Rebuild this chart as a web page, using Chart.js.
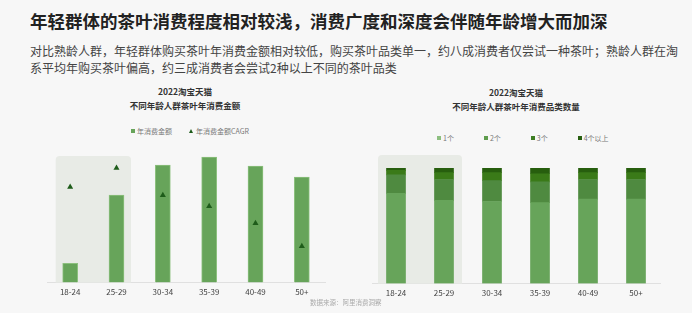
<!DOCTYPE html>
<html>
<head>
<meta charset="utf-8">
<script src="https://cdn.jsdelivr.net/npm/chart.js@4.4.0/dist/chart.umd.min.js"></script>
<style>
  html, body { margin: 0; padding: 0; }
  body { width: 692px; height: 313px; background: #f7f7f7; position: relative; overflow: hidden;
         font-family: "Noto Sans CJK SC", "Noto Sans", sans-serif; }
  .abs { position: absolute; white-space: nowrap; }
  #title { left: 30px; top: 8px; font-size: 17.5px; font-weight: bold; color: #222; }
  #sub { left: 30px; top: 42px; font-size: 12px; line-height: 17px; color: #444; }
  .ctitle { font-size: 8.5px; font-weight: bold; color: #333; text-align: center; line-height: 14px; transform: translateX(-50%); }
  .legend { font-size: 7px; color: #777; display: flex; align-items: center; }
  .legend span { display: inline-flex; align-items: center; }
  .sq { width: 4px; height: 4px; margin-right: 2px; display: inline-block; }
  .tri { width: 0; height: 0; border-left: 2.5px solid transparent; border-right: 2.5px solid transparent;
         border-bottom: 4px solid #1e5c1a; margin-right: 3px; display: inline-block; }
  canvas { position: absolute; }
  #src { left: 310px; top: 297px; font-size: 6.5px; color: #aaa; }
</style>
</head>
<body>
<div id="title" class="abs">年轻群体的茶叶消费程度相对较浅，消费广度和深度会伴随年龄增大而加深</div>
<div id="sub" class="abs">对比熟龄人群，年轻群体购买茶叶年消费金额相对较低，购买茶叶品类单一，约八成消费者仅尝试一种茶叶；熟龄人群在淘<br>系平均年购买茶叶偏高，约三成消费者会尝试2种以上不同的茶叶品类</div>

<div class="abs ctitle" style="left:185px; top:84px;">2022淘宝天猫<br>不同年龄人群茶叶年消费金额</div>
<div class="abs legend" style="left:131px; top:126px;">
  <span><i class="sq" style="background:#67a45a"></i>年消费金额</span>
  <span style="margin-left:17px"><i class="tri"></i>年消费金额CAGR</span>
</div>

<div class="abs ctitle" style="left:516px; top:85px;">2022淘宝天猫<br>不同年龄人群茶叶年消费品类数量</div>
<div class="abs legend" style="left:437px; top:133px;">
  <span><i class="sq" style="background:#8dbf80"></i>1个</span>
  <span style="margin-left:30px"><i class="sq" style="background:#5e9c4d"></i>2个</span>
  <span style="margin-left:30px"><i class="sq" style="background:#3d7d22"></i>3个</span>
  <span style="margin-left:30px"><i class="sq" style="background:#285f10"></i>4个以上</span>
</div>

<canvas id="left" width="300" height="160" style="left:37px; top:145px; width:300px; height:160px;"></canvas>
<canvas id="right" width="310" height="160" style="left:362px; top:145px; width:310px; height:160px;"></canvas>

<div id="src" class="abs">数据来源：阿里消费洞察</div>

<script>
// age groups
const ageGroups = ['18-24', '25-29', '30-34', '35-39', '40-49', '50+'];

// left chart: annual spend (relative) and its CAGR (relative marker heights)
const spend = [19, 87, 117, 125, 116, 105];
const spendCagr = [95, 114, 87, 76, 59, 36];

// right chart: share of buyers by number of tea categories bought (%)
const cat1 = [78, 72, 71, 70, 73, 73];
const cat2 = [16, 18, 18, 18, 17, 17];
const cat3 = [4, 6, 7, 7, 6, 6];
const cat4 = [2, 4, 4, 5, 4, 4];

const font = { family: '"Noto Sans CJK SC", "Noto Sans", sans-serif', size: 8 };

// grey box behind the young groups
const highlight = {
  id: 'highlight',
  beforeDatasetsDraw(chart, args, opts) {
    const x = chart.scales.x;
    const ctx = chart.ctx;
    const l = x.getPixelForValue(0) - opts.pad;
    const r = x.getPixelForValue(1) + opts.pad;
    const t = opts.top;
    const b = chart.chartArea.bottom;
    ctx.save();
    ctx.fillStyle = '#e8ebe6';
    ctx.beginPath();
    ctx.roundRect(l, t, r - l, b - t, [4, 4, 0, 0]);
    ctx.fill();
    ctx.restore();
  }
};

const xAxis = {
  grid: { display: false, drawTicks: false },
  border: { display: true, color: '#e0e0e0', width: 1 },
  ticks: { color: '#444', font: font, padding: 5 }
};

new Chart(document.getElementById('left'), {
  type: 'bar',
  data: {
    labels: ageGroups,
    datasets: [
      {
        type: 'line',
        label: '年消费金额CAGR',
        data: spendCagr,
        showLine: false,
        pointStyle: 'triangle',
        pointRadius: 3.5,
        backgroundColor: '#1e5c1a',
        borderColor: '#1e5c1a',
        borderWidth: 0,
        order: 0
      },
      {
        label: '年消费金额',
        data: spend,
        backgroundColor: '#67a45a',
        borderColor: '#8cc07e',
        borderWidth: 1,
        barThickness: 15,
        order: 1
      }
    ]
  },
  options: {
    responsive: false,
    animation: false,
    layout: { padding: { left: 10, right: 12, top: 7, bottom: 3 } },
    plugins: { legend: { display: false }, tooltip: { enabled: false },
               highlight: { pad: 14.5, top: 11 } },
    scales: {
      x: xAxis,
      y: { display: false, min: 0, max: 130 }
    }
  },
  plugins: [highlight]
});

new Chart(document.getElementById('right'), {
  type: 'bar',
  data: {
    labels: ageGroups,
    datasets: [
      { label: '1个', data: cat1, backgroundColor: '#67a45a' },
      { label: '2个', data: cat2, backgroundColor: '#4f8a40' },
      { label: '3个', data: cat3, backgroundColor: '#3a7a18' },
      { label: '4个以上', data: cat4, backgroundColor: '#275e0e' }
    ].map(d => Object.assign(d, { barThickness: 19 }))
  },
  options: {
    responsive: false,
    animation: false,
    layout: { padding: { left: 10, right: 12, top: 23, bottom: 2 } },
    plugins: { legend: { display: false }, tooltip: { enabled: false },
               highlight: { pad: 18, top: 10 } },
    scales: {
      x: Object.assign({}, xAxis, { stacked: true }),
      y: { display: false, stacked: true, min: 0, max: 100 }
    }
  },
  plugins: [highlight]
});
</script>
</body>
</html>
